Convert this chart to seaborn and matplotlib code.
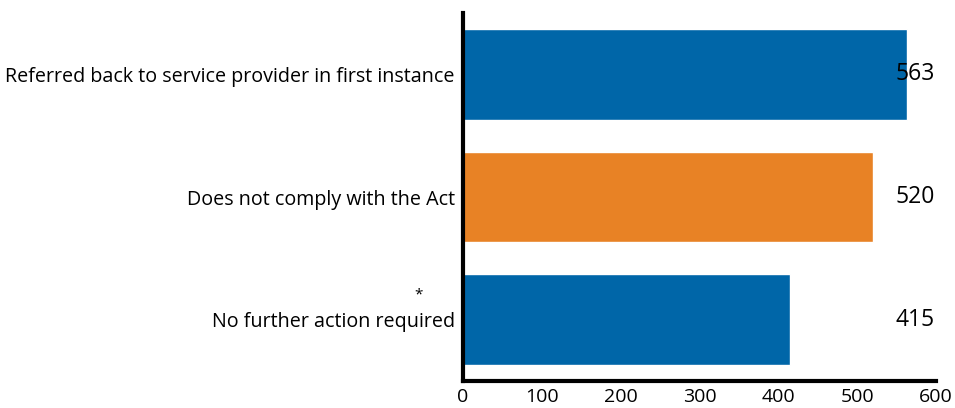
import matplotlib
matplotlib.use("Agg")
import matplotlib.pyplot as plt
import seaborn as sns
import pandas as pd

categories = [
    "Referred back to service provider in first instance",
    "Does not comply with the Act",
    "No further action required",
]
values = [563, 520, 415]
bar_colors = ["#0066A8", "#E88225", "#0066A8"]
x_ticks = [0, 100, 200, 300, 400, 500, 600]

sns.set_theme(style="white")
plt.rcParams["font.family"] = ["Open Sans", "DejaVu Sans"]

df = pd.DataFrame({"category": categories, "count": values})

fig = plt.figure(figsize=(9.55, 4.08), dpi=100)
ax = fig.add_axes([0.4848, 0.066, 0.4953, 0.902])

sns.barplot(data=df, x="count", y="category", hue="category",
            palette=bar_colors, legend=False, width=0.74,
            saturation=1, ax=ax)

ax.set_xlim(0, 600)
ax.set_ylim(2.5, -0.5)
ax.set_xticks(x_ticks)
ax.set_xticklabels([str(t) for t in x_ticks], fontsize=14)
ax.set_xlabel("")
ax.set_ylabel("")
ax.tick_params(axis="y", length=0, labelsize=14.2, pad=6, labelcolor="black")
ax.tick_params(axis="x", direction="in", length=7, width=3, color="black",
               pad=5, labelcolor="black")

for side in ("top", "right"):
    ax.spines[side].set_visible(False)
for side in ("left", "bottom"):
    ax.spines[side].set_linewidth(3)
    ax.spines[side].set_color("black")

# value labels, right-aligned at the end of the axis
for i, v in enumerate(values):
    ax.text(598, i, str(v), ha="right", va="center", fontsize=16.5,
            color="black")

# footnote marker on the last category
fig.text(419 / 955, 1 - 295 / 408, "*", ha="center", va="center",
         fontsize=11, color="black")

fig.savefig("out.png", dpi=100)
